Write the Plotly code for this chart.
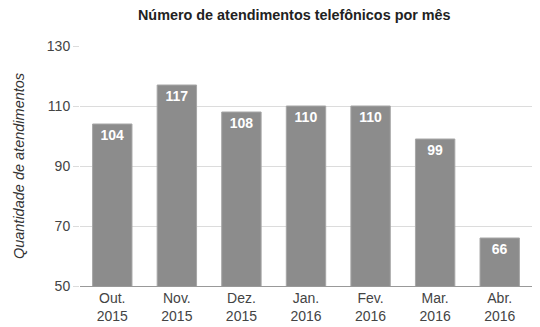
import plotly.graph_objects as go

categories = ["Out.<br>2015", "Nov.<br>2015", "Dez.<br>2015", "Jan.<br>2016",
              "Fev.<br>2016", "Mar.<br>2016", "Abr.<br>2016"]
values = [104, 117, 108, 110, 110, 99, 66]
y_ticks = [50, 70, 90, 110, 130]

fig = go.Figure(go.Bar(
    x=categories, y=values,
    text=[str(v) for v in values],
    textposition="inside",
    insidetextanchor="end",
    textangle=0,
    textfont=dict(family="Liberation Sans, Arial", size=14, color="white", weight="bold"),
    marker=dict(color="#8c8c8c", line=dict(color="#a6a6a6", width=1)),
    cliponaxis=True,
))

fig.update_layout(
    width=540, height=327,
    margin=dict(l=80, r=8, t=46, b=41),
    paper_bgcolor="white", plot_bgcolor="white",
    bargap=0.39,
    showlegend=False,
    uniformtext=dict(minsize=14, mode="show"),
    title=dict(text="<b>Número de atendimentos telefônicos por mês</b>",
               x=0.545, xanchor="center", y=0.955, yanchor="middle",
               font=dict(family="Liberation Sans, Arial", size=14.4, color="#222")),
    font=dict(family="Liberation Sans, Arial", size=14, color="#444"),
)
fig.update_xaxes(showgrid=False, showline=True, linecolor="#999", linewidth=1,
                 ticks="", automargin=False, ticklabelstandoff=-1,
                 tickfont=dict(size=14, color="#444"))
fig.update_yaxes(range=[50, 130], tickvals=y_ticks, showgrid=True,
                 gridcolor="#dcdcdc", gridwidth=1, zeroline=False,
                 ticks="outside", ticklen=6, tickcolor="#dcdcdc",
                 automargin=False,
                 tickfont=dict(size=14, color="#444"),
                 title=dict(text="<i>Quantidade de atendimentos</i>", standoff=18,
                            font=dict(size=14.5, color="#333")))
fig.write_html("out.html")
